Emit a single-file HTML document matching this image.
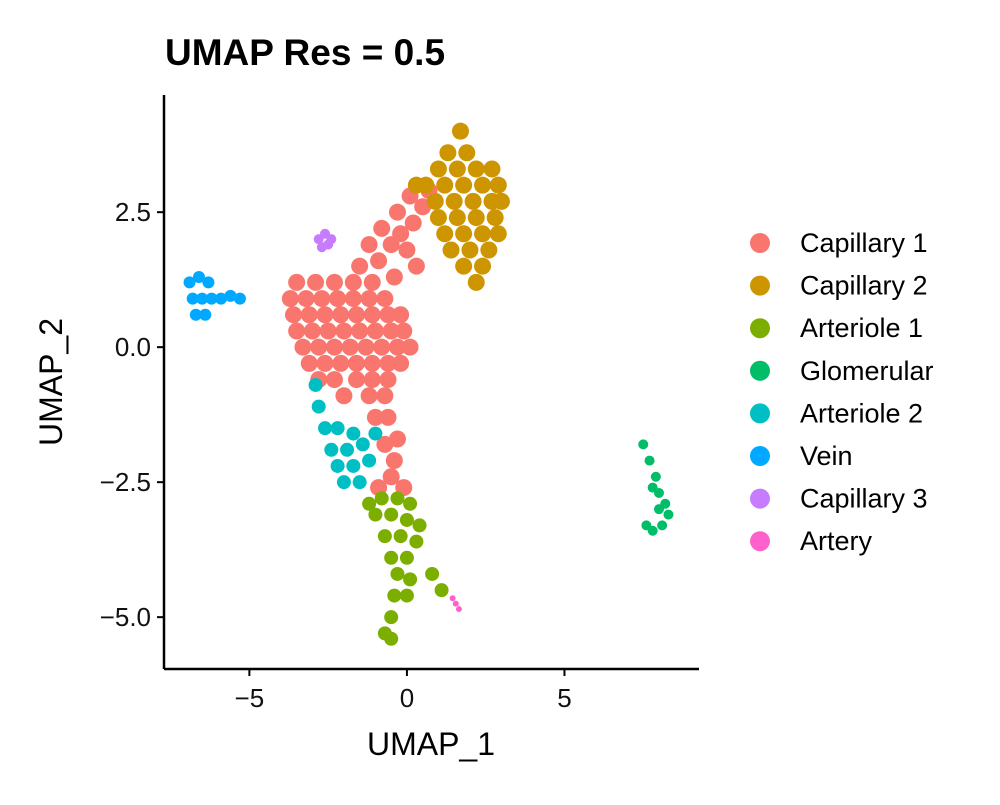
<!DOCTYPE html>
<html><head><meta charset="utf-8"><style>
body{margin:0;background:#fff;}
svg text{font-family:"Liberation Sans",Arial,sans-serif;}
</style></head><body>
<svg id="chart" width="1000" height="800" viewBox="0 0 1000 800">
<rect width="1000" height="800" fill="#fff"/>
<text x="165" y="65" font-size="37" font-weight="bold">UMAP Res = 0.5</text>
<g id="points"></g>
<g id="axes"></g>
<text x="431" y="755" font-size="32" text-anchor="middle">UMAP_1</text>
<text transform="translate(62,382) rotate(-90)" font-size="32" text-anchor="middle">UMAP_2</text>
<g id="legend"></g>
</svg>
<script>
const clusterNames = ["Capillary 1","Capillary 2","Arteriole 1","Glomerular","Arteriole 2","Vein","Capillary 3","Artery"];
const clusterColors = ["#F8766D","#CD9600","#7CAE00","#00BE67","#00BFC4","#00A9FF","#C77CFF","#FF61CC"];
const xTicks = [-5,0,5];
const yTicks = [-5,-2.5,0,2.5];
const yTickLabels = ["\u22125.0","\u22122.5","0.0","2.5"];
const xTickLabels = ["\u22125","0","5"];
const cap1 = [[-3.5,1.2],[-2.9,1.2],[-2.3,1.2],[-1.7,1.2],[-1.1,1.2],
[-3.7,0.9],[-3.2,0.9],[-2.7,0.9],[-2.2,0.9],[-1.7,0.9],[-1.2,0.9],[-0.7,0.9],
[-3.6,0.6],[-3.1,0.6],[-2.6,0.6],[-2.1,0.6],[-1.6,0.6],[-1.1,0.6],[-0.6,0.6],[-0.2,0.6],
[-3.5,0.3],[-3.0,0.3],[-2.5,0.3],[-2.0,0.3],[-1.5,0.3],[-1.0,0.3],[-0.5,0.3],[-0.1,0.3],
[-3.3,0.0],[-2.8,0.0],[-2.3,0.0],[-1.8,0.0],[-1.3,0.0],[-0.8,0.0],[-0.3,0.0],[0.1,0.0],
[-3.1,-0.3],[-2.6,-0.3],[-2.1,-0.3],[-1.6,-0.3],[-1.1,-0.3],[-0.6,-0.3],[-0.2,-0.3],
[-2.8,-0.6],[-2.3,-0.6],[-1.6,-0.6],[-1.1,-0.6],[-0.6,-0.6],
[-2.0,-0.9],[-1.2,-0.9],[-0.7,-0.9],[-1.0,-1.3],[-0.6,-1.3],
[-1.5,1.5],[-0.9,1.6],[-1.2,1.9],[-0.5,1.9],[-0.8,2.2],[-0.2,2.1],[0.2,2.3],[-0.3,2.5],[0.5,2.6],[0.1,2.8],[0.7,2.9],[0.3,1.5],[-0.4,1.3],[0.0,1.8],
[-0.7,-1.8],[-0.4,-2.1],[-0.3,-1.7],[-0.5,-2.4],[-0.1,-2.6],[-0.9,-2.6]];
const cap2 = [[1.7,4.0],[1.3,3.6],[1.9,3.6],[1.0,3.3],[1.6,3.3],[2.2,3.3],[2.7,3.3],
[0.6,3.0],[1.2,3.0],[1.8,3.0],[2.4,3.0],[2.9,3.0],[0.9,2.7],[1.5,2.7],[2.1,2.7],[2.7,2.7],[3.0,2.7],
[1.0,2.4],[1.6,2.4],[2.2,2.4],[2.8,2.4],[1.2,2.1],[1.8,2.1],[2.4,2.1],[2.9,2.1],
[1.4,1.8],[2.0,1.8],[2.6,1.8],[1.8,1.5],[2.4,1.5],[2.2,1.2],[0.3,3.0]];
const art1 = [[-0.8,-2.8],[-0.3,-2.8],[0.1,-2.9],[-1.0,-3.1],[-0.5,-3.1],[0.0,-3.2],[0.4,-3.3],[-0.7,-3.5],[-0.2,-3.5],[0.3,-3.6],[-0.5,-3.9],[0.0,-3.9],[-0.3,-4.2],[0.1,-4.3],[-0.4,-4.6],[0.0,-4.6],[-0.5,-5.0],[-0.7,-5.3],[-0.5,-5.4],[0.8,-4.2],[1.1,-4.5],[-1.2,-2.9]];
const glom = [[7.5,-1.8],[7.7,-2.1],[7.9,-2.4],[8.0,-2.7],[8.2,-2.9],[8.3,-3.1],[8.1,-3.3],[7.8,-3.4],[7.6,-3.3],[8.0,-3.0],[7.8,-2.6]];
const art2 = [[-2.8,-1.1],[-2.6,-1.5],[-2.2,-1.5],[-1.7,-1.6],[-2.4,-1.9],[-1.9,-1.9],[-1.4,-1.8],[-2.2,-2.2],[-1.7,-2.2],[-1.2,-2.1],[-2.0,-2.5],[-1.5,-2.5],[-2.9,-0.7],[-1.0,-1.6]];
const vein = [[-6.9,1.2],[-6.6,1.3],[-6.3,1.2],[-6.8,0.9],[-6.5,0.9],[-6.2,0.9],[-5.9,0.9],[-6.7,0.6],[-6.4,0.6],[-5.6,0.95],[-5.3,0.9]];
const cap3 = [[-2.8,2.0],[-2.6,2.1],[-2.4,2.0],[-2.7,1.85],[-2.5,1.9]];
const artery = [[1.45,-4.65],[1.55,-4.75],[1.65,-4.85]];
const clusters = [cap1,cap2,art1,glom,art2,vein,cap3,artery];
const radii = [8.5,8.5,7,5,7,6,5,3];

const NS="http://www.w3.org/2000/svg";
const X0=164,X1=699,Y0=95,Y1=669;
const xMin=-7.71,xMax=9.27,yMin=-5.96,yMax=4.67;
function sx(v){return X0+(v-xMin)/(xMax-xMin)*(X1-X0);}
function sy(v){return Y1-(v-yMin)/(yMax-yMin)*(Y1-Y0);}
function mk(t,a,p){const e=document.createElementNS(NS,t);for(const k in a)e.setAttribute(k,a[k]);p.appendChild(e);return e;}
const gp=document.getElementById('points');
clusters.forEach((pts,ci)=>{pts.forEach(p=>{
 const c=mk('circle',{cx:sx(p[0]),cy:sy(p[1]),r:radii[ci],fill:clusterColors[ci]},gp);
 
 
});});
const ga=document.getElementById('axes');
const xl=mk('line',{x1:X0,y1:Y1,x2:X1,y2:Y1,stroke:'#000','stroke-width':2.5},ga);


const yl=mk('line',{x1:X0,y1:Y0,x2:X0,y2:Y1,stroke:'#000','stroke-width':2.5},ga);


xTicks.forEach((v,i)=>{
 mk('line',{x1:sx(v),y1:Y1,x2:sx(v),y2:Y1+7,stroke:'#000','stroke-width':2},ga);
 const t=mk('text',{x:sx(v),y:Y1+38,'font-size':26,'text-anchor':'middle',fill:'#111'},ga);
 t.textContent=xTickLabels[i];
 
 
});
yTicks.forEach((v,i)=>{
 mk('line',{x1:X0-7,y1:sy(v),x2:X0,y2:sy(v),stroke:'#000','stroke-width':2},ga);
 const t=mk('text',{x:X0-13,y:sy(v)+9,'font-size':26,'text-anchor':'end',fill:'#111'},ga);
 t.textContent=yTickLabels[i];
 
 
});
const gl=document.getElementById('legend');
clusterNames.forEach((n,i)=>{
 const y=243+i*42.6;
 const g=mk('g',{},gl);
 
 
 mk('circle',{cx:760,cy:y,r:10,fill:clusterColors[i]},g);
 const t=mk('text',{x:800,y:y+9,'font-size':27},g);
 t.textContent=n;
});
</script>
</body></html>
